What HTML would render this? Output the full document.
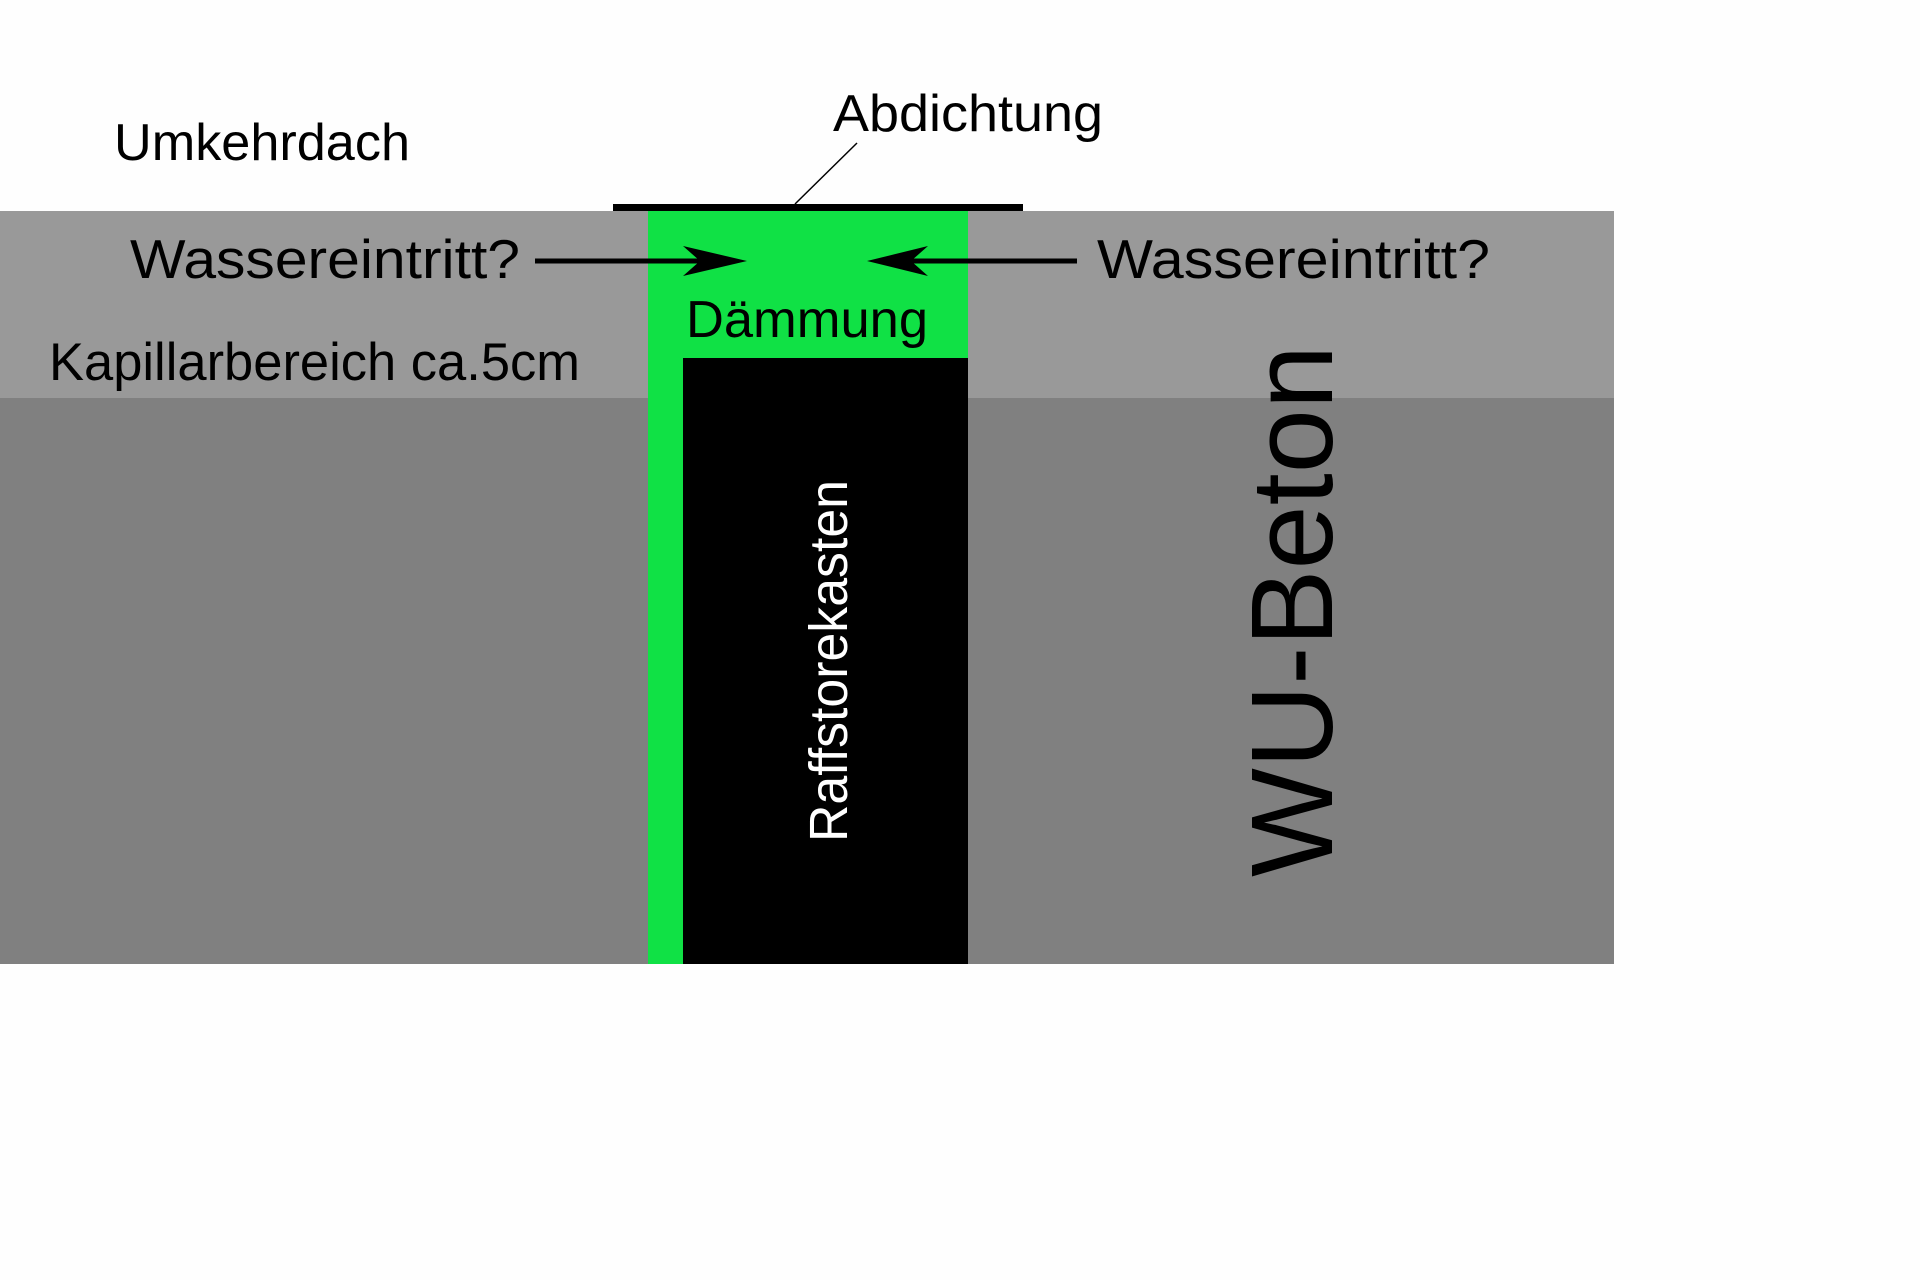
<!DOCTYPE html>
<html><head><meta charset="utf-8"><style>
html,body{margin:0;padding:0;background:#fff;width:1920px;height:1280px;overflow:hidden}
svg{display:block}
text{font-family:"Liberation Sans",sans-serif}
</style></head><body>
<svg width="1920" height="1280" viewBox="0 0 1920 1280" xmlns="http://www.w3.org/2000/svg">
<rect x="0" y="0" width="1920" height="1280" fill="#fefefe"/>
<rect x="0" y="211" width="1614" height="187" fill="#999999"/>
<rect x="0" y="398" width="1614" height="566" fill="#808080"/>
<rect x="648" y="211" width="320" height="753" fill="#10e145"/>
<rect x="683" y="358" width="285" height="606" fill="#000"/>
<rect x="613" y="204" width="410" height="7" fill="#000"/>
<line x1="857" y1="143" x2="795" y2="204" stroke="#000" stroke-width="1.5"/>
<line x1="535" y1="261" x2="720" y2="261" stroke="#000" stroke-width="5"/>
<polygon points="747,261 683,246 700,261 683,276" fill="#000"/>
<line x1="895" y1="261" x2="1077" y2="261" stroke="#000" stroke-width="5"/>
<polygon points="867,261 928,246 911,261 928,276" fill="#000"/>
<text x="114" y="160" font-size="52" textLength="296" lengthAdjust="spacingAndGlyphs">Umkehrdach</text>
<text x="833" y="131" font-size="52" textLength="270" lengthAdjust="spacingAndGlyphs">Abdichtung</text>
<text x="130" y="278" font-size="55" textLength="390" lengthAdjust="spacingAndGlyphs">Wassereintritt?</text>
<text x="1097" y="278" font-size="55" textLength="393" lengthAdjust="spacingAndGlyphs">Wassereintritt?</text>
<text x="686" y="337" font-size="52" textLength="242" lengthAdjust="spacingAndGlyphs">Dämmung</text>
<text x="49" y="380" font-size="53" textLength="531" lengthAdjust="spacingAndGlyphs">Kapillarbereich ca.5cm</text>
<text transform="translate(847,842) rotate(-90)" x="0" y="0" font-size="54" fill="#fff" textLength="362" lengthAdjust="spacingAndGlyphs">Raffstorekasten</text>
<text transform="translate(1332,877) rotate(-90)" x="0" y="0" font-size="116" fill="#000" textLength="532" lengthAdjust="spacingAndGlyphs">WU-Beton</text>
</svg>
</body></html>
